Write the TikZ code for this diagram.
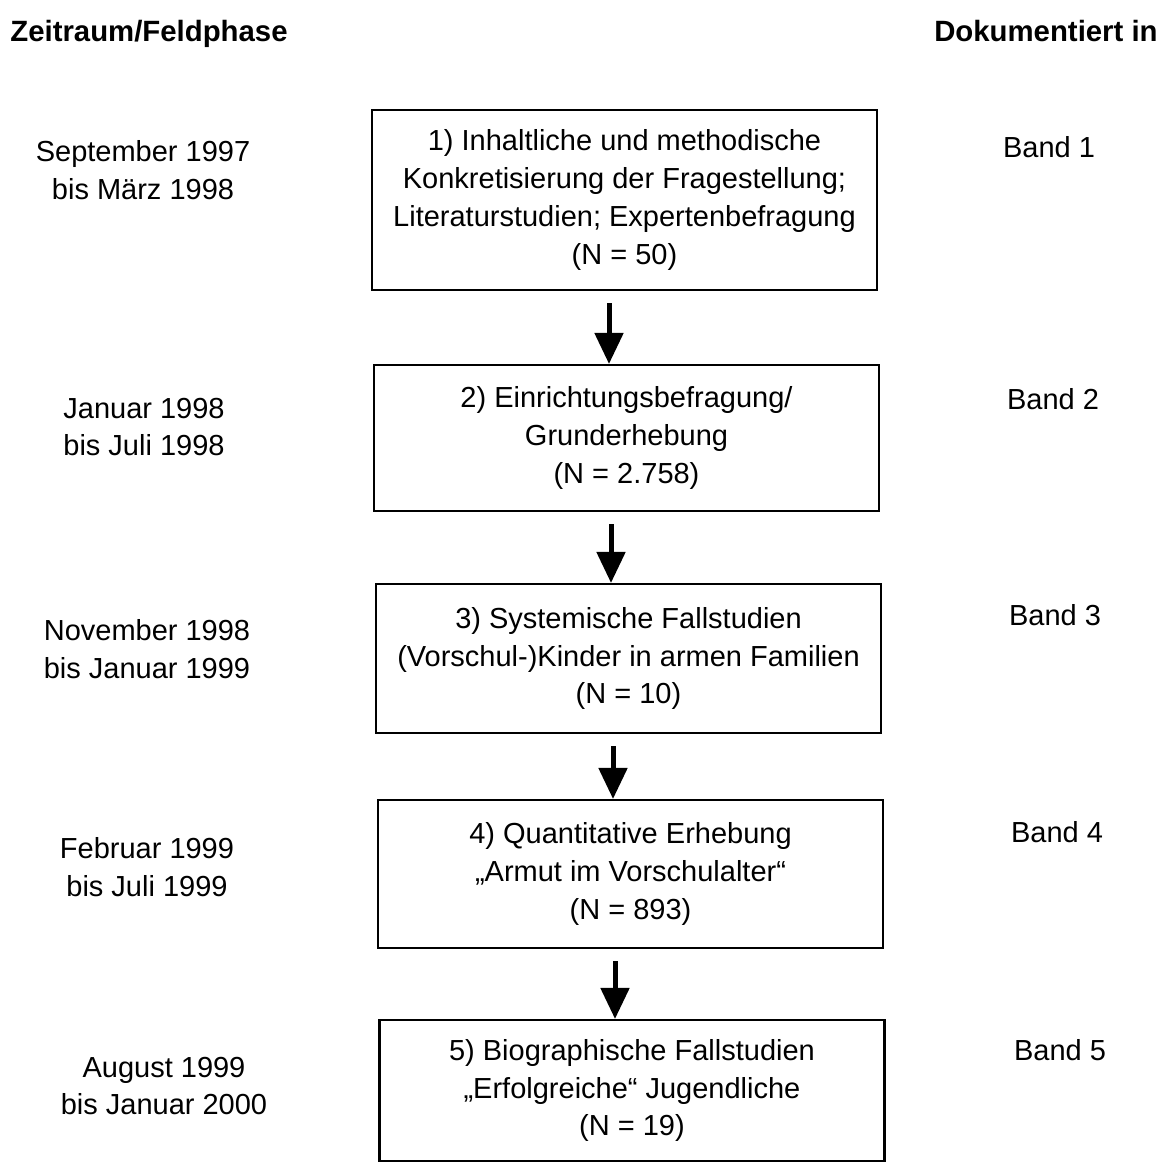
\documentclass[tikz,border=0pt]{standalone}
\usepackage{fontspec}
\setmainfont{Liberation Sans}
\usetikzlibrary{arrows.meta, positioning}

\begin{document}
\begin{tikzpicture}[font=\fontsize{16.5}{21.5}\selectfont,
    phase/.style={draw, line width=1.2pt, align=center, minimum width=10.1cm, inner sep=0pt},
    zeit/.style={align=center, inner sep=0pt},
    band/.style={inner sep=0pt},
    kopf/.style={font=\fontsize{16.7}{20}\selectfont\bfseries, inner sep=0pt},
    flow/.style={line width=0.1cm, -{Triangle[width=0.56cm, length=0.62cm]}}]
        \useasboundingbox (0,0) rectangle (23.42,-23.32);
        \node[kopf, anchor=base west] (kopfZeit) at (0.2,-0.82) {Zeitraum/Feldphase};
        \node[kopf, anchor=base east] (kopfBand) at (23.16,-0.82) {Dokumentiert in};
        \foreach \n/\x/\y/\h/\zx/\zy/\bx/\by/\dt/\txt in {
            1/12.49/-4.00/3.60/2.86/-3.40/20.98/-2.94/{September 1997\\bis März 1998}/{1) Inhaltliche und methodische\\Konkretisierung der Fragestellung;\\Literaturstudien; Expertenbefragung\\(N = 50)},
            2/12.53/-8.76/2.92/2.88/-8.54/21.06/-7.98/{Januar 1998\\bis Juli 1998}/{2) Einrichtungsbefragung/\\Grunderhebung\\(N = 2.758)},
            3/12.57/-13.17/2.98/2.94/-12.98/21.10/-12.30/{November 1998\\bis Januar 1999}/{3) Systemische Fallstudien\\(Vorschul-)Kinder in armen Familien\\(N = 10)},
            4/12.61/-17.48/2.96/2.94/-17.34/21.14/-16.64/{Februar 1999\\bis Juli 1999}/{4) Quantitative Erhebung\\„Armut im Vorschulalter“\\(N = 893)},
            5/12.64/-21.81/2.82/3.28/-21.72/21.20/-21.00/{August 1999\\bis Januar 2000}/{5) Biographische Fallstudien\\„Erfolgreiche“ Jugendliche\\(N = 19)}}
        {
            \node[phase, minimum height=\h cm] (box\n) at (\x,\y) {\txt};
            \node[zeit] (zeit\n) at (\zx,\zy) {\dt};
            \node[band] (band\n) at (\bx,\by) {Band \n};
        }
        % Pfeile senkrecht zwischen den Kaesten
        \foreach \a/\b in {1/2, 2/3, 3/4, 4/5}
            \draw[flow] ([xshift=-0.31cm, yshift=-0.24cm]box\a.south) -- ([xshift=-0.31cm]box\a.south |- box\b.north);
    \end{tikzpicture}
\end{document}
